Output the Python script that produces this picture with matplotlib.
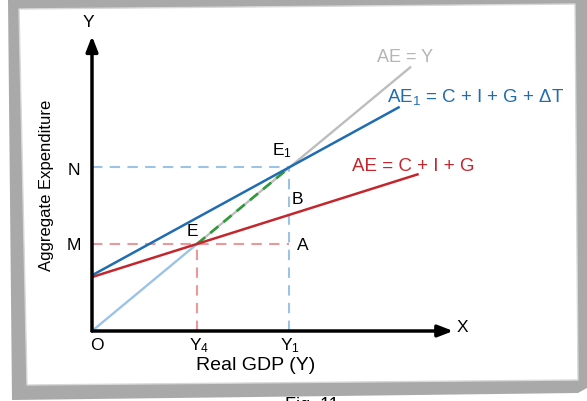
import matplotlib.pyplot as plt
from matplotlib.patches import Polygon

plt.rcParams['font.family'] = ['Liberation Sans', 'DejaVu Sans']
plt.rcParams['mathtext.fontset'] = 'custom'
plt.rcParams['mathtext.rm'] = 'Liberation Sans'
plt.rcParams['mathtext.it'] = 'Liberation Sans'
plt.rcParams['mathtext.default'] = 'regular'

# equilibrium points (real GDP, aggregate expenditure)
E = [100, 100]
E1 = [188, 188]

# AE = C + I + G
ae_x = [0, 310]
ae_y = [62, 180]
# AE1 = C + I + G + dT
ae1_x = [0, 292]
ae1_y = [64, 257]
# 45 degree line AE = Y, split in three pieces
diag_low_x = [0, 100]
diag_mid_x = [100, 188]
diag_high_x = [188, 303]

red = '#c3262c'
blue = '#1f6db0'
grey = '#bdbdbd'
lightblue = '#9cc3e6'
pink = '#e8999c'
green = '#2f9a3c'

fig = plt.figure(figsize=(5.87, 4.02), dpi=100)

# frame behind the diagram
bg = fig.add_axes([0, 0, 1, 1], zorder=-1)
bg.set_xlim(0, 587)
bg.set_ylim(402, 0)
bg.axis('off')
bg.add_patch(Polygon([(8, 0), (587, 0), (587, 389), (578, 394), (12, 401)],
                     closed=True, fc='#a9a9a9', ec='none'))
bg.add_patch(Polygon([(19, 10), (575, 5), (578, 381), (27, 386)],
                     closed=True, fc='white', ec='#d8d8d8', lw=1))
bg.text(312, 397, 'Fig. 11', ha='center', va='top', fontsize=13)

ax = fig.add_axes([92 / 587, 70 / 402, 473 / 587, 317 / 402])
ax.set_xlim(0, 450.5)
ax.set_ylim(0, 364.4)
ax.axis('off')

# axes with arrow heads
ax.annotate('', xy=(0, 339), xytext=(0, 0),
            arrowprops=dict(arrowstyle='-|>,head_length=0.9,head_width=0.35',
                            lw=2.5, color='black', shrinkA=0, shrinkB=0))
ax.annotate('', xy=(344, 0), xytext=(0, 0),
            arrowprops=dict(arrowstyle='-|>,head_length=0.9,head_width=0.35',
                            lw=2.5, color='black', shrinkA=0, shrinkB=0))

# dashed guide lines
ax.plot([0, E1[0]], [E[1], E[1]], ls=(0, (5, 3.5)), color=pink, lw=1.5)
ax.plot([E[0], E[0]], [0, E[1]], ls=(0, (5, 3.5)), color=pink, lw=1.5)
ax.plot([0, E1[0]], [E1[1], E1[1]], ls=(0, (5, 3.5)), color=lightblue, lw=1.5)
ax.plot([E1[0], E1[0]], [0, E1[1]], ls=(0, (5, 3.5)), color=lightblue, lw=1.5)

# AE = Y
ax.plot(diag_low_x, diag_low_x, color=lightblue, lw=1.7)
ax.plot(diag_mid_x, diag_mid_x, color=grey, lw=1.7)
ax.plot(diag_mid_x, diag_mid_x, color=green, lw=1.9, ls=(0, (4, 2.5)))
ax.plot(diag_high_x, diag_high_x, color=grey, lw=1.7)

ax.plot(ae_x, ae_y, color=red, lw=1.8)
ax.plot(ae1_x, ae1_y, color=blue, lw=1.8)

fs = 12.5
ax.text(-3.8, 356, 'Y', ha='center', va='center', fontsize=fs)
ax.text(353, 4.6, 'X', ha='center', va='center', fontsize=fs)
ax.text(4.8, -15, 'O', ha='center', va='center', fontsize=fs)
ax.text(E[0] + 2, -16, 'Y$_4$', ha='center', va='center', fontsize=fs)
ax.text(E1[0] + 1, -16, 'Y$_1$', ha='center', va='center', fontsize=fs)
ax.text(156, -39, 'Real GDP (Y)', ha='center', va='center', fontsize=14)
ax.text(-17, E1[1] - 2, 'N', ha='center', va='center', fontsize=fs)
ax.text(-17, E[1] - 1, 'M', ha='center', va='center', fontsize=fs)
ax.text(-43, 169, 'Aggregate Expenditure', ha='center', va='center',
        rotation=90, fontsize=12)
ax.text(96, 115, 'E', ha='center', va='center', fontsize=fs)
ax.text(181, 208, 'E$_1$', ha='center', va='center', fontsize=fs)
ax.text(196, 152, 'B', ha='center', va='center', fontsize=fs)
ax.text(201, 99, 'A', ha='center', va='center', fontsize=fs)

ax.text(298, 316, 'AE = Y', ha='center', va='center', fontsize=13, color='#b5b5b5')
ax.text(365, 270, 'AE$_1$ = C + I + G + ΔT', ha='center', va='center',
        fontsize=13.5, color=blue)
ax.text(306, 190, 'AE = C + I + G', ha='center', va='center',
        fontsize=13.5, color=red)

fig.savefig('out.png', dpi=100)
